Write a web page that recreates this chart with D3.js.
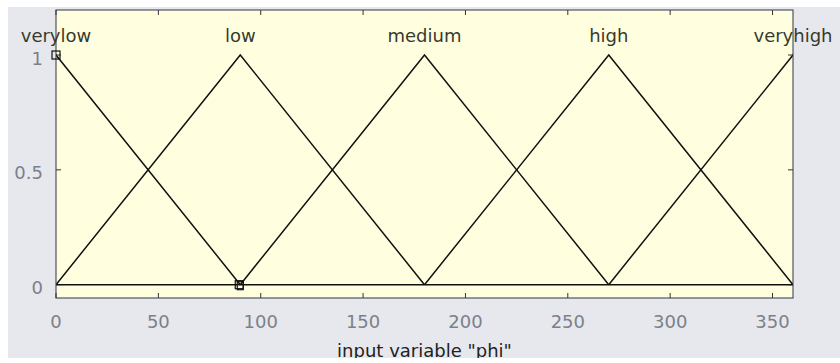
<!DOCTYPE html>
<html>
<head>
<meta charset="utf-8">
<script src="https://cdn.jsdelivr.net/npm/d3@7"></script>
<style>
  html, body { margin: 0; padding: 0; background: #ffffff; }
  svg { display: block; }
  text { font-family: "DejaVu Sans", Verdana, sans-serif; }
</style>
</head>
<body>
<svg id="chart" width="840" height="363"></svg>
<script>
// Membership functions of input variable "phi" (triangular: left foot, peak, right foot)
const mfNames = ["verylow", "low", "medium", "high", "veryhigh"];
const mfLeft  = [-90, 0, 90, 180, 270];
const mfPeak  = [0, 90, 180, 270, 360];
const mfRight = [90, 180, 270, 360, 450];
const xTicks = [0, 50, 100, 150, 200, 250, 300, 350];
const yTicks = [0, 0.5, 1];
const xRange = [0, 360];
const yRange = [-0.058, 1.196];
// vertices of the selected membership function (verylow)
const selX = [0, 90];
const selY = [1, 0];
const axisLabel = 'input variable "phi"';

const svg = d3.select("#chart");
const W = 840, H = 363;
const plot = { left: 56, right: 793, top: 10, bottom: 298 };

// figure background
svg.append("rect").attr("x", 8).attr("y", 7).attr("width", W - 8).attr("height", 351)
  .attr("fill", "#e6e8ed");

const x = d3.scaleLinear().domain(xRange).range([plot.left, plot.right]);
const y = d3.scaleLinear().domain(yRange).range([plot.bottom, plot.top]);

const defs = svg.append("defs");
defs.append("clipPath").attr("id", "plotclip")
  .append("rect").attr("x", plot.left).attr("y", plot.top)
  .attr("width", plot.right - plot.left).attr("height", plot.bottom - plot.top);
defs.append("clipPath").attr("id", "figclip")
  .append("rect").attr("x", 0).attr("y", 0).attr("width", W).attr("height", 358);

// axes area
svg.append("rect").attr("x", plot.left).attr("y", plot.top)
  .attr("width", plot.right - plot.left).attr("height", plot.bottom - plot.top)
  .attr("fill", "#ffffe0");

// inward ticks on all four sides
const tickLen = 5;
const g = svg.append("g").attr("stroke", "#333").attr("stroke-width", 1);
xTicks.forEach(t => {
  g.append("line").attr("x1", x(t)).attr("x2", x(t)).attr("y1", plot.bottom).attr("y2", plot.bottom - tickLen);
  g.append("line").attr("x1", x(t)).attr("x2", x(t)).attr("y1", plot.top).attr("y2", plot.top + tickLen);
});
yTicks.forEach(t => {
  g.append("line").attr("x1", plot.left).attr("x2", plot.left + tickLen).attr("y1", y(t)).attr("y2", y(t));
  g.append("line").attr("x1", plot.right).attr("x2", plot.right - tickLen).attr("y1", y(t)).attr("y2", y(t));
});

// tick labels
svg.append("g").selectAll("text").data(xTicks).join("text")
  .attr("x", d => x(d)).attr("y", 328).attr("text-anchor", "middle")
  .attr("font-size", 18).attr("fill", "#7b808b").text(d => d);
svg.append("g").selectAll("text").data(yTicks).join("text")
  .attr("x", 43).attr("y", d => y(d) + 9.5).attr("text-anchor", "end")
  .attr("font-size", 18).attr("fill", "#7b808b").text(d => d);

// membership function curves
const line = d3.line().x(d => x(d[0])).y(d => y(d[1]));
const mfg = svg.append("g").attr("clip-path", "url(#plotclip)");
mfNames.forEach((n, i) => {
  mfg.append("path")
    .attr("d", line([[mfLeft[i], 0], [mfPeak[i], 1], [mfRight[i], 0]]))
    .attr("fill", "none").attr("stroke", "#111").attr("stroke-width", 1.5);
});
// zero line
mfg.append("line").attr("x1", x(xRange[0])).attr("x2", x(xRange[1])).attr("y1", y(0)).attr("y2", y(0))
  .attr("stroke", "#111").attr("stroke-width", 1.5);

// axes frame
svg.append("rect").attr("x", plot.left).attr("y", plot.top)
  .attr("width", plot.right - plot.left).attr("height", plot.bottom - plot.top)
  .attr("fill", "none").attr("stroke", "#334").attr("stroke-width", 1);

// markers on the selected function's vertices
const sq = 8;
selX.forEach((v, i) => {
  svg.append("rect").attr("x", x(v) - sq / 2 + (i === 1 ? -1 : 0)).attr("y", y(selY[i]) - sq / 2)
    .attr("width", sq).attr("height", sq).attr("fill", "none").attr("stroke", "#111").attr("stroke-width", 1.2);
  if (i === 1) {
    svg.append("rect").attr("x", x(v) - sq / 2 + 1).attr("y", y(selY[i]) - sq / 2 + 1)
      .attr("width", sq - 2).attr("height", sq).attr("fill", "none").attr("stroke", "#111").attr("stroke-width", 1.2);
  }
});

// membership function names
svg.append("g").selectAll("text").data(mfNames).join("text")
  .attr("x", (d, i) => x(mfPeak[i])).attr("y", 42).attr("text-anchor", "middle")
  .attr("font-size", 18).attr("fill", "#383a2c").text(d => d);

// axis label (clipped at figure bottom)
svg.append("text").attr("clip-path", "url(#figclip)")
  .attr("x", x(180)).attr("y", 357).attr("text-anchor", "middle")
  .attr("font-size", 18).attr("fill", "#222").text(axisLabel);
</script>
</body>
</html>
